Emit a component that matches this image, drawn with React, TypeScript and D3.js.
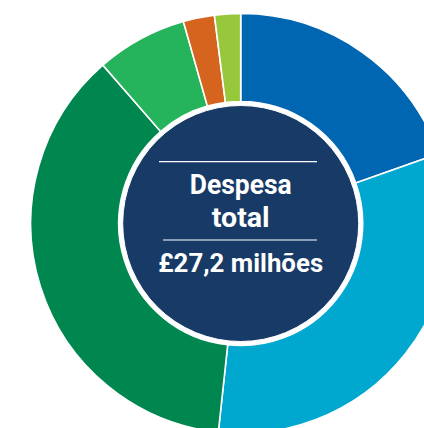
import React from "react";
import * as d3 from "d3";

const categories = ["Categoria A", "Categoria B", "Categoria C", "Categoria D", "Categoria E", "Categoria F"];
const shares = [19.6, 32.1, 36.9, 7.0, 2.4, 2.0];
const colors = ["#0066B1", "#00A8D0", "#00874F", "#25B35B", "#D5641F", "#97C83C"];
const titleLines = ["Despesa", "total"];
const totalLabel = "£27,2 milhões";

const W = 424;
const H = 428;
const cx = 240.7;
const cy = 223.5;
const outerR = 210;
const innerR = 122;
const centerR = 118;

export default function App() {
  const pie = d3
    .pie<number>()
    .sort(null)
    .value((d) => d)
    .startAngle(0)
    .endAngle(2 * Math.PI);
  const arcs = pie(shares);
  const arcGen = d3.arc<d3.PieArcDatum<number>>().innerRadius(innerR).outerRadius(outerR);

  return (
    <svg
      width={W}
      height={H}
      style={{ position: "absolute", left: 0, top: 0, background: "#fff" }}
      fontFamily="Roboto, 'Noto Sans', sans-serif"
    >
      <g transform={`translate(${cx},${cy})`}>
        {arcs.map((a, i) => (
          <path
            key={categories[i]}
            d={arcGen(a) || ""}
            fill={colors[i]}
            stroke="#fff"
            strokeWidth={1.6}
          />
        ))}
        <circle r={centerR} fill="#183A66" stroke="#fff" strokeWidth={1} />
        <line x1={159 - cx} x2={317 - cx} y1={161.7 - cy} y2={161.7 - cy} stroke="#fff" strokeWidth={1.2} />
        <line x1={163 - cx} x2={317 - cx} y1={240 - cy} y2={240 - cy} stroke="#fff" strokeWidth={1.2} />
        <text x={0} y={194.3 - cy} textAnchor="middle" fill="#fff" fontSize={27} fontWeight={700}
          textLength={102} lengthAdjust="spacingAndGlyphs">
          {titleLines[0]}
        </text>
        <text x={0} y={226.7 - cy} textAnchor="middle" fill="#fff" fontSize={27} fontWeight={700}
          textLength={58} lengthAdjust="spacingAndGlyphs">
          {titleLines[1]}
        </text>
        <text x={0} y={271.7 - cy} textAnchor="middle" fill="#fff" fontSize={26} fontWeight={700}
          textLength={165} lengthAdjust="spacingAndGlyphs">
          {totalLabel}
        </text>
      </g>
    </svg>
  );
}
